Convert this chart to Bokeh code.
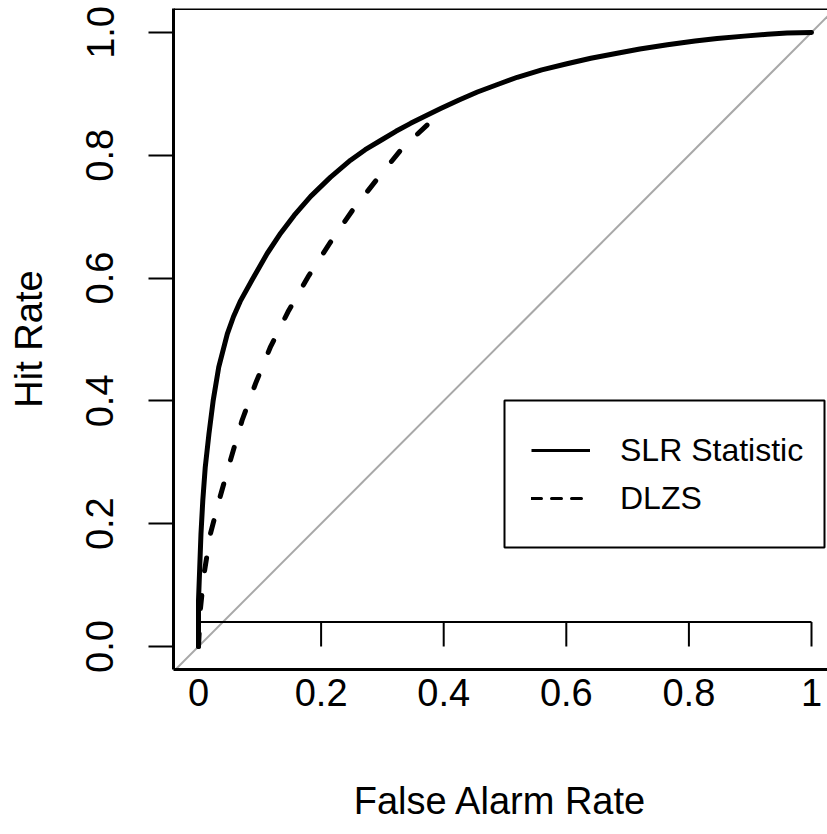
from bokeh.plotting import figure
from bokeh.models import (Range1d, FixedTicker, Span, Slope, Legend,
                          LegendItem, BoxAnnotation)
from bokeh.embed import file_html
from bokeh.resources import INLINE

# ---- data ----
fa_slr = [0.0, 0.0, 0.002, 0.004, 0.007, 0.011, 0.017, 0.024, 0.033, 0.047,
          0.057, 0.068, 0.088, 0.112, 0.134, 0.156, 0.183, 0.215, 0.248,
          0.272, 0.297, 0.322, 0.346, 0.370, 0.395, 0.425, 0.455, 0.49,
          0.52, 0.56, 0.601, 0.64, 0.683, 0.72, 0.765, 0.81, 0.846, 0.89,
          0.928, 0.96, 1.0]
hr_slr = [0.0, 0.075, 0.129, 0.183, 0.238, 0.292, 0.346, 0.401, 0.455, 0.509,
          0.537, 0.562, 0.598, 0.640, 0.673, 0.702, 0.733, 0.764, 0.792,
          0.809, 0.824, 0.839, 0.852, 0.864, 0.876, 0.890, 0.903, 0.916,
          0.927, 0.939, 0.949, 0.958, 0.966, 0.973, 0.980, 0.986, 0.990,
          0.994, 0.997, 0.999, 1.0]
fa_dlzs = [0.0, 0.003, 0.009, 0.0196, 0.035, 0.052, 0.071, 0.093, 0.117,
           0.146, 0.180, 0.215, 0.251, 0.292, 0.332, 0.378, 0.390]
hr_dlzs = [0.0, 0.06, 0.118, 0.184, 0.243, 0.303, 0.368, 0.428, 0.487,
           0.545, 0.604, 0.658, 0.710, 0.762, 0.811, 0.854, 0.865]

x_ticks = [0, 0.2, 0.4, 0.6, 0.8, 1]
x_tick_labels = ["0", "0.2", "0.4", "0.6", "0.8", "1"]
y_ticks = [0, 0.2, 0.4, 0.6, 0.8, 1]
y_tick_labels = ["0.0", "0.2", "0.4", "0.6", "0.8", "1.0"]
series_names = ["SLR Statistic", "DLZS"]
x_title = "False Alarm Rate"
y_title = "Hit Rate"

X_LO, X_HI = -0.0408, 1.0261
Y_LO, Y_HI = -0.0375, 1.039
AXIS_POS = 0.04
FONT = "Liberation Sans"

p = figure(width=827, height=834,
           x_range=Range1d(X_LO, X_HI), y_range=Range1d(Y_LO, Y_HI),
           output_backend="svg", toolbar_location=None,
           min_border_left=173, min_border_right=0,
           min_border_top=8, min_border_bottom=165)
p.outline_line_color = None
p.xgrid.visible = False
p.ygrid.visible = False
p.background_fill_color = "white"
p.border_fill_color = "white"

# bottom axis: labels, title and lower box edge
xa = p.xaxis[0]
xa.ticker = FixedTicker(ticks=x_ticks)
xa.major_label_overrides = {t: l for t, l in zip(x_ticks, x_tick_labels)}
xa.major_tick_line_color = None
xa.minor_tick_line_color = None
xa.major_tick_out = 0
xa.major_tick_in = 0
xa.axis_line_color = "black"
xa.axis_line_width = 3
xa.major_label_text_font = FONT
xa.major_label_text_font_size = "38px"
xa.major_label_text_color = "black"
xa.major_label_standoff = 9
xa.axis_label = x_title
xa.axis_label_text_font = FONT
xa.axis_label_text_font_size = "38px"
xa.axis_label_text_font_style = "normal"
xa.axis_label_text_color = "black"
xa.axis_label_standoff = 71

# left axis
ya = p.yaxis[0]
ya.ticker = FixedTicker(ticks=y_ticks)
ya.major_label_overrides = {t: l for t, l in zip(y_ticks, y_tick_labels)}
ya.major_label_orientation = "vertical"
ya.major_tick_out = 25
ya.major_tick_in = 0
ya.major_tick_line_width = 2
ya.major_tick_line_color = "black"
ya.minor_tick_line_color = None
ya.axis_line_width = 3
ya.axis_line_color = "black"
ya.major_label_text_font = FONT
ya.major_label_text_font_size = "38px"
ya.major_label_text_color = "black"
ya.major_label_standoff = 35
ya.axis_label = y_title
ya.axis_label_text_font = FONT
ya.axis_label_text_font_size = "38px"
ya.axis_label_text_font_style = "normal"
ya.axis_label_text_color = "black"
ya.axis_label_standoff = 34

# upper box edge
p.add_layout(Span(location=Y_HI, dimension="width", line_color="black", line_width=3))

# diagonal reference line
p.add_layout(Slope(gradient=1, y_intercept=0, line_color="#a8a8a8",
                   line_width=2, level="underlay"))

# inner x axis (line at AXIS_POS with ticks down to 0)
n = len(x_ticks)
p.segment(x0=[x_ticks[0]], y0=[AXIS_POS], x1=[x_ticks[-1]], y1=[AXIS_POS],
          line_color="black", line_width=2)
p.segment(x0=x_ticks, y0=[0] * n, x1=x_ticks, y1=[AXIS_POS] * n,
          line_color="black", line_width=2)

# curves
p.line(fa_dlzs, hr_dlzs, line_color="black", line_width=5,
       line_dash="13 25", line_cap="round", line_join="round")
p.line(fa_slr, hr_slr, line_color="black", line_width=5,
       line_cap="round", line_join="round")

# legend frame (screen units, relative to the plot frame)
p.add_layout(BoxAnnotation(left=331, right=651, bottom=122, top=269,
                           left_units="screen", right_units="screen",
                           bottom_units="screen", top_units="screen",
                           fill_color="white", fill_alpha=1,
                           line_color="black", line_width=2, line_alpha=1))

# legend samples (thinner lines, as in the reference); one point draws nothing
lg_slr = p.line(fa_slr[:1], hr_slr[:1], line_color="black", line_width=3)
lg_dlzs = p.line(fa_dlzs[:1], hr_dlzs[:1], line_color="black", line_width=3,
                 line_dash="10 10", line_cap="round")
# without a border Bokeh drops the padding, so the location is the items' corner
legend = Legend(items=[LegendItem(label=series_names[0], renderers=[lg_slr]),
                       LegendItem(label=series_names[1], renderers=[lg_dlzs])],
                location=(358, 147), padding=0, margin=0, spacing=0,
                label_height=48, glyph_height=48, glyph_width=59,
                label_standoff=30, label_text_font=FONT,
                label_text_font_size="32px", label_text_color="black",
                label_text_baseline="middle",
                border_line_color=None,
                background_fill_alpha=0)
p.add_layout(legend)

open("out.html", "w").write(file_html(p, INLINE))
